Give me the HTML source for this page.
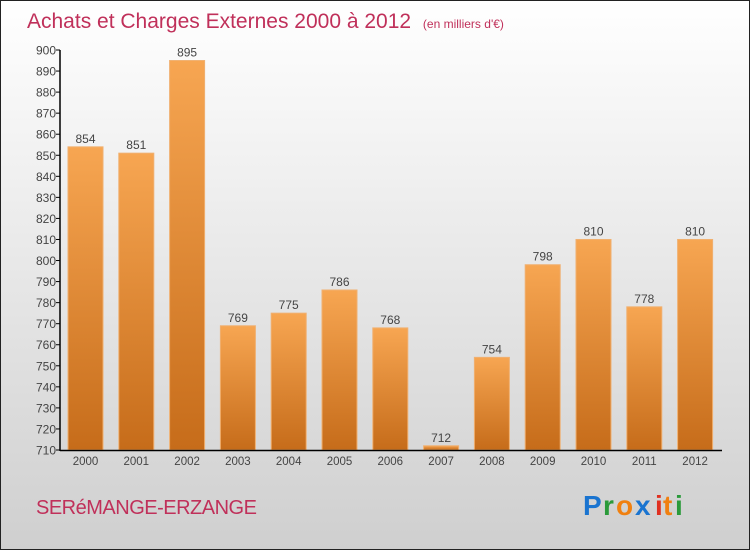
<!DOCTYPE html>
<html><head><meta charset="utf-8"><style>
body{margin:0;width:750px;height:550px;overflow:hidden;font-family:"Liberation Sans",sans-serif}
</style></head><body>
<svg id="chart" width="750" height="550" xmlns="http://www.w3.org/2000/svg">
<defs>
<linearGradient id="bg" x1="0" y1="0" x2="0" y2="1"><stop offset="0" stop-color="#ffffff"/><stop offset="1" stop-color="#cfcfcf"/></linearGradient>
<linearGradient id="bar" x1="0" y1="0" x2="0" y2="1"><stop offset="0" stop-color="#f7a652"/><stop offset="1" stop-color="#c66c1a"/></linearGradient>
</defs>
<rect x="0.5" y="0.5" width="749" height="549" fill="url(#bg)" stroke="#222" stroke-width="1"/>
<text x="27" y="28" font-size="21" fill="#c0305a">Achats et Charges Externes 2000 à 2012 <tspan font-size="12" dx="6">(en milliers d'€)</tspan></text>
<g id="yaxis"></g>
<g id="bars"></g>
<g id="xaxis"></g>
<text x="36" y="514" font-size="20" fill="#c0305a" letter-spacing="-0.5">SERéMANGE-ERZANGE</text>
<g font-size="28" font-weight="bold" font-family="'Liberation Sans',sans-serif">
<text x="583" y="515" fill="#1a74d0">P</text><text x="603" y="515" fill="#2a9a3a">r</text><text x="616" y="515" fill="#f08010">o</text><text x="635" y="515" fill="#1a74d0">x</text><text x="655" y="515" fill="#e03020">i</text><text x="663" y="515" fill="#f08010">t</text><text x="675" y="515" fill="#2a9a3a">i</text>
</g>
</svg>
<script>
const categories=["2000","2001","2002","2003","2004","2005","2006","2007","2008","2009","2010","2011","2012"];
const values=[854,851,895,769,775,786,768,712,754,798,810,778,810];
const yTicks=[710,720,730,740,750,760,770,780,790,800,810,820,830,840,850,860,870,880,890,900];
const NS="http://www.w3.org/2000/svg";
const yMin=710,yMax=900,plotTop=50,plotBottom=450,plotLeft=60,plotRight=722;
const yS=v=>plotBottom-(v-yMin)/(yMax-yMin)*(plotBottom-plotTop);
const pitch=50.8,bw=35;
const xc=i=>85.5+i*pitch;
function mk(tag,attrs,parent){const e=document.createElementNS(NS,tag);for(const k in attrs)e.setAttribute(k,attrs[k]);parent.appendChild(e);return e;}
const ya=document.getElementById('yaxis'),ba=document.getElementById('bars'),xa=document.getElementById('xaxis');
yTicks.forEach(t=>{
 const l=mk('line',{x1:plotLeft-4,x2:plotLeft,y1:yS(t),y2:yS(t),stroke:'#000'},ya);
 
 
 const tx=mk('text',{x:plotLeft-4,y:yS(t)+4.5,'text-anchor':'end','font-size':12,fill:'#444'},ya);
 tx.textContent=t;
 
 
});
const yl=mk('line',{x1:plotLeft,x2:plotLeft,y1:plotTop,y2:plotBottom+1,stroke:'#000','stroke-width':1.5},ya);


values.forEach((v,i)=>{
 const r=mk('rect',{x:xc(i)-bw/2,y:yS(v),width:bw,height:plotBottom-yS(v),fill:'url(#bar)',stroke:'#f0b070','stroke-width':1},ba);
 
 
 const t=mk('text',{x:xc(i),y:yS(v)-4,'text-anchor':'middle','font-size':12,fill:'#444'},ba);
 t.textContent=v;
 
 
 const c=mk('text',{x:xc(i),y:plotBottom+15,'text-anchor':'middle','font-size':11.5,fill:'#444'},xa);
 c.textContent=categories[i];
 
 
});
const xl=mk('line',{x1:plotLeft,x2:plotRight,y1:plotBottom+0.5,y2:plotBottom+0.5,stroke:'#000','stroke-width':1.5},xa);


</script>
</body></html>
